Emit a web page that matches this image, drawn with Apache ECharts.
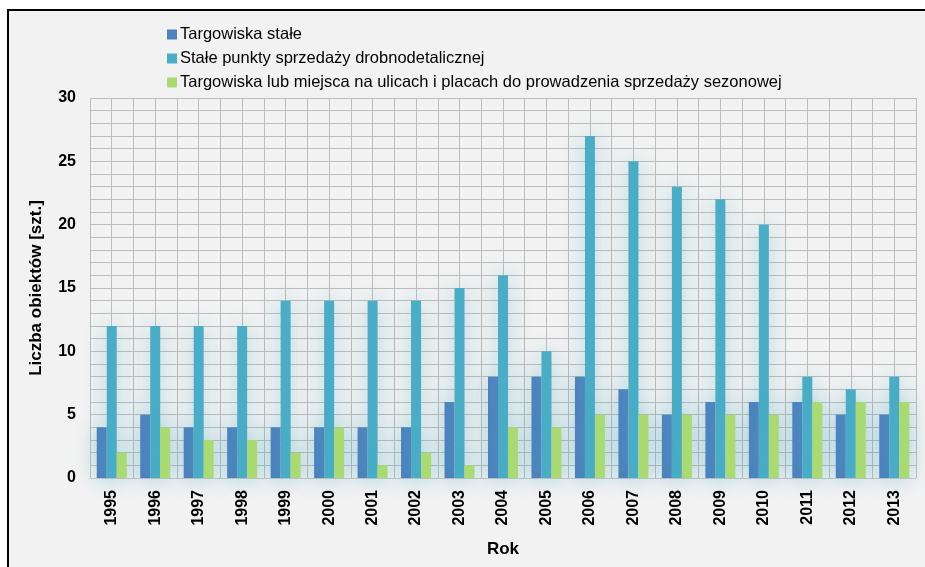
<!DOCTYPE html>
<html lang="pl">
<head>
    <meta charset="UTF-8">
    <title>Liczba obiektów</title>
    <script src="https://cdn.jsdelivr.net/npm/echarts@6/dist/echarts.min.js"></script>
    <style>
        html, body { margin: 0; padding: 0; background: #fff; }
        #main { width: 925px; height: 567px; }
    </style>
</head>
<body>
<div id="main"></div>
<script type="text/javascript">
    // dane
    var lata = ['1995','1996','1997','1998','1999','2000','2001','2002','2003','2004',
                '2005','2006','2007','2008','2009','2010','2011','2012','2013'];
    var targowiskaStale = [4,5,4,4,4,4,4,4,6,8,8,8,7,5,6,6,6,5,5];
    var punktySprzedazy = [12,12,12,12,14,14,14,14,15,16,10,27,25,23,22,20,8,7,8];
    var sezonowe = [2,4,3,3,2,4,1,2,1,4,4,5,5,5,5,5,6,6,6];
    var nazwy = ['Targowiska stałe',
                 'Stałe punkty sprzedaży drobnodetalicznej',
                 'Targowiska lub miejsca na ulicach i placach do prowadzenia sprzedaży sezonowej'];
    var kolory = ['#4f81bd', '#4bacc6', '#a9da74'];

    var font = 'Liberation Sans, sans-serif';
    var myChart = echarts.init(document.getElementById('main'));

    function seria(i, dane) {
        return {
            name: nazwy[i],
            type: 'bar',
            xAxisIndex: 0,
            barGap: '0%',
            barCategoryGap: '31%',
            data: dane,
            itemStyle: {
                color: kolory[i],
                shadowBlur: 22,
                shadowColor: 'rgba(75,172,198,0.45)'
            }
        };
    }

    var option = {
        backgroundColor: '#fff',
        animation: false,
        color: kolory,
        graphic: [{
            type: 'rect',
            z: -10,
            silent: true,
            shape: { x: 8, y: 10, width: 1000, height: 1000 },
            style: { fill: '#f2f2f2', stroke: '#000', lineWidth: 2 }
        }],
        legend: {
            orient: 'vertical',
            left: 162,
            top: 21,
            itemWidth: 10,
            itemHeight: 10,
            itemGap: 7,
            icon: 'rect',
            textStyle: { fontFamily: font, fontSize: 16.5, color: '#000', padding: [0, 0, 0, -2] },
            data: nazwy
        },
        grid: { left: 90, right: 9, top: 98, bottom: 89 },
        xAxis: [{
            type: 'category',
            data: lata,
            name: 'Rok',
            nameLocation: 'middle',
            nameGap: 63,
            nameTextStyle: { fontFamily: font, fontSize: 17, fontWeight: 'bold', color: '#000' },
            axisLine: { lineStyle: { color: '#c8c8c8' } },
            axisTick: { show: false },
            axisLabel: { rotate: 90, margin: 12, fontFamily: font, fontSize: 16, fontWeight: 'bold', color: '#000' }
        }, {
            type: 'value',
            min: 0,
            max: 19,
            interval: 0.5,
            position: 'bottom',
            axisLine: { show: false },
            axisTick: { show: false },
            axisLabel: { show: false },
            splitLine: { show: true, lineStyle: { color: '#bdbdbd' } }
        }],
        yAxis: {
            type: 'value',
            min: 0,
            max: 30,
            interval: 5,
            name: 'Liczba obiektów [szt.]',
            nameLocation: 'middle',
            nameGap: 45,
            nameTextStyle: { fontFamily: font, fontSize: 17, fontWeight: 'bold', color: '#000' },
            axisLine: { show: false },
            axisTick: { show: false },
            axisLabel: { margin: 14, fontFamily: font, fontSize: 16, fontWeight: 'bold', color: '#000' },
            splitLine: { lineStyle: { color: '#bdbdbd' } },
            minorTick: { show: false, splitNumber: 5 },
            minorSplitLine: { show: true, lineStyle: { color: '#bdbdbd' } }
        },
        series: [
            seria(0, targowiskaStale),
            seria(1, punktySprzedazy),
            seria(2, sezonowe)
        ]
    };

    myChart.setOption(option);
</script>
</body>
</html>
